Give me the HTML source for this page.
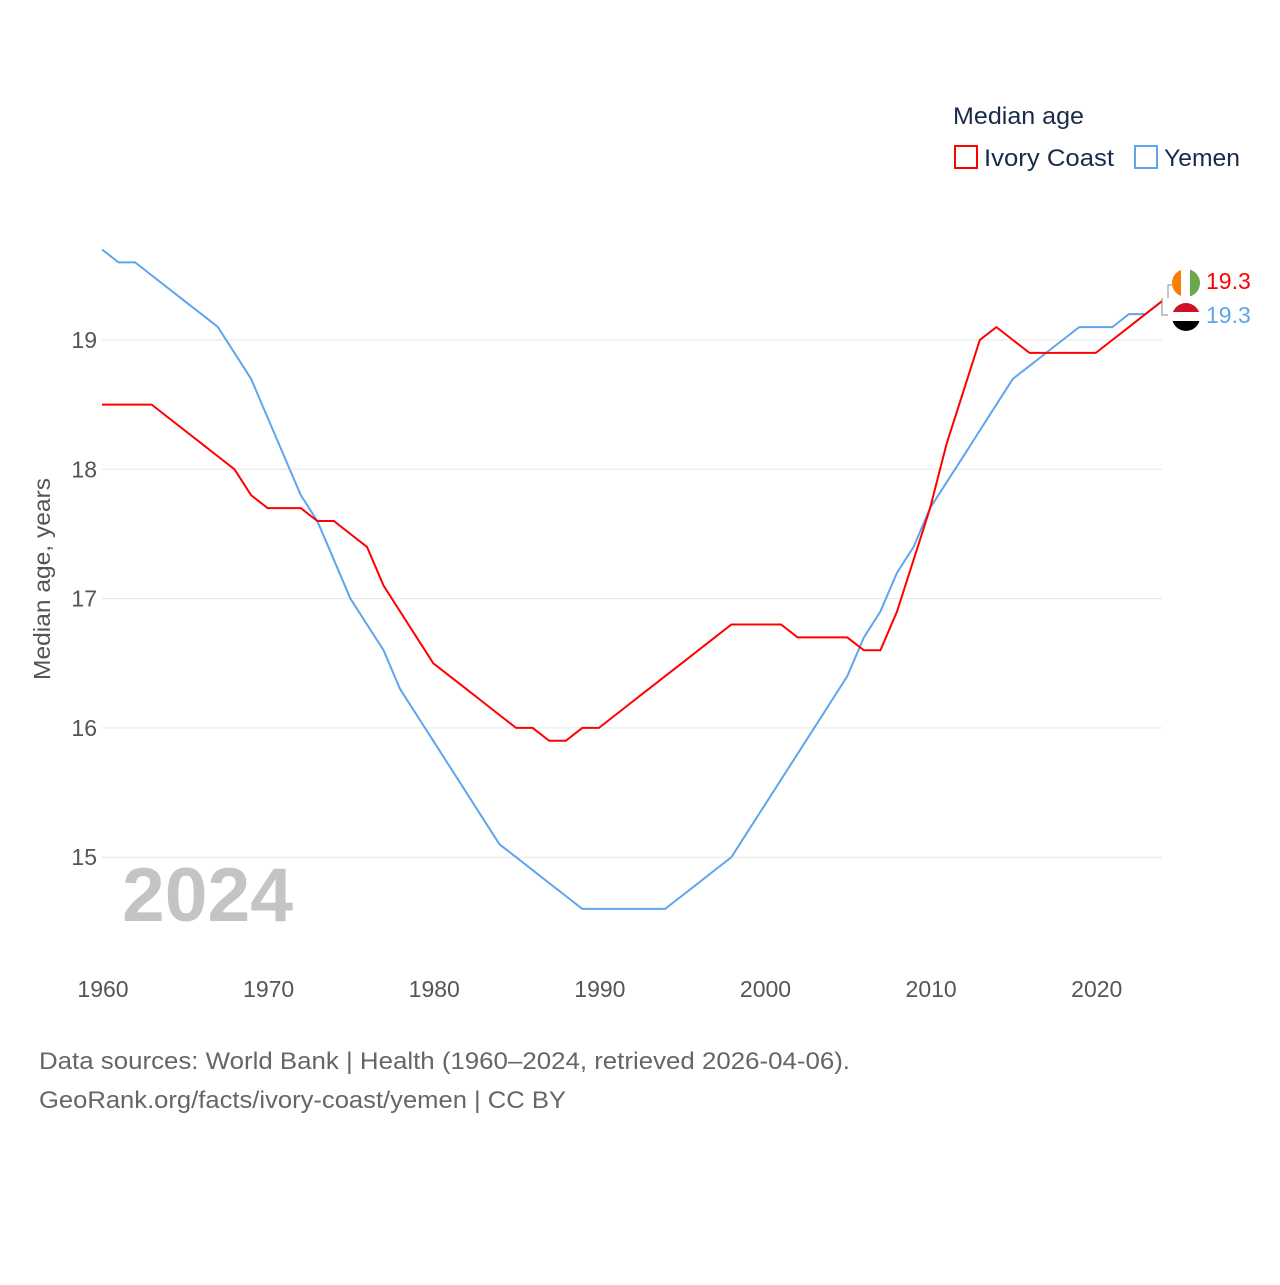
<!DOCTYPE html>
<html><head><meta charset="utf-8"><style>
body{margin:0;background:#fff;font-family:"Liberation Sans",sans-serif}
svg text{font-family:"Liberation Sans",sans-serif}
</style></head><body>
<svg width="1280" height="1280" viewBox="0 0 1280 1280">
<g id="grid"></g>
<g id="yt"></g>
<g id="xt"></g>
<text x="50" y="579" transform="rotate(-90 50 579)" text-anchor="middle" font-size="23" fill="#555" textLength="202" lengthAdjust="spacingAndGlyphs">Median age, years</text>
<text x="122" y="921" font-size="76" font-weight="bold" fill="#c4c4c4" textLength="171" lengthAdjust="spacingAndGlyphs">2024</text>
<g id="lines"></g>
<text x="953" y="124" font-size="24" fill="#1a2a4a" textLength="131" lengthAdjust="spacingAndGlyphs">Median age</text>
<g><rect x="955" y="146" width="22" height="22" fill="none" stroke="#f00" stroke-width="2"/><text x="984" y="166" font-size="24" fill="#1a2a4a" textLength="130" lengthAdjust="spacingAndGlyphs">Ivory Coast</text></g>
<g><rect x="1135" y="146" width="22" height="22" fill="none" stroke="#5fa5ee" stroke-width="2"/><text x="1164" y="166" font-size="24" fill="#1a2a4a" textLength="76" lengthAdjust="spacingAndGlyphs">Yemen</text></g>
<g>
<path d="M1168 298 V285 H1172 M1162 298 V315 H1168" stroke="#888" fill="none"/>
<g><clipPath id="c1"><circle cx="1186" cy="283" r="14"/></clipPath><g clip-path="url(#c1)"><rect x="1172" y="269" width="10" height="28" fill="#f77f00"/><rect x="1181" y="269" width="10" height="28" fill="#fff"/><rect x="1190" y="269" width="10" height="28" fill="#6aa84f"/></g></g>
<g><clipPath id="c2"><circle cx="1186" cy="317" r="14"/></clipPath><g clip-path="url(#c2)"><rect x="1172" y="303" width="28" height="10" fill="#ce1126"/><rect x="1172" y="312" width="28" height="10" fill="#fff"/><rect x="1172" y="321" width="28" height="10" fill="#000"/></g></g>
<text x="1206" y="289" font-size="23" fill="#f00">19.3</text>
<text x="1206" y="323" font-size="23" fill="#5fa5ee">19.3</text>
</g>
<text x="39" y="1069" font-size="24" fill="#666" textLength="811" lengthAdjust="spacingAndGlyphs">Data sources: World Bank | Health (1960–2024, retrieved 2026-04-06).</text>
<text x="39" y="1108" font-size="24" fill="#666" textLength="527" lengthAdjust="spacingAndGlyphs">GeoRank.org/facts/ivory-coast/yemen | CC BY</text>
</svg>
<script>
const years=[];for(let y=1960;y<=2024;y++)years.push(y);
const ivoryCoast=[18.5,18.5,18.5,18.5,18.4,18.3,18.2,18.1,18.0,17.8,17.7,17.7,17.7,17.6,17.6,17.5,17.4,17.1,16.9,16.7,16.5,16.4,16.3,16.2,16.1,16.0,16.0,15.9,15.9,16.0,16.0,16.1,16.2,16.3,16.4,16.5,16.6,16.7,16.8,16.8,16.8,16.8,16.7,16.7,16.7,16.7,16.6,16.6,16.9,17.3,17.7,18.2,18.6,19.0,19.1,19.0,18.9,18.9,18.9,18.9,18.9,19.0,19.1,19.2,19.3];
const yemen=[19.7,19.6,19.6,19.5,19.4,19.3,19.2,19.1,18.9,18.7,18.4,18.1,17.8,17.6,17.3,17.0,16.8,16.6,16.3,16.1,15.9,15.7,15.5,15.3,15.1,15.0,14.9,14.8,14.7,14.6,14.6,14.6,14.6,14.6,14.6,14.7,14.8,14.9,15.0,15.2,15.4,15.6,15.8,16.0,16.2,16.4,16.7,16.9,17.2,17.4,17.7,17.9,18.1,18.3,18.5,18.7,18.8,18.9,19.0,19.1,19.1,19.1,19.2,19.2,19.3];
const yTicks=[15,16,17,18,19];
const xTicks=[1960,1970,1980,1990,2000,2010,2020];
const NS="http://www.w3.org/2000/svg";
const X=y=>102+(y-1960)*(1060/64);
const Y=v=>340+(19-v)*129.3;
const grid=document.getElementById('grid'),yt=document.getElementById('yt'),xt=document.getElementById('xt'),lines=document.getElementById('lines');
yTicks.forEach(t=>{
const l=document.createElementNS(NS,'line');


l.setAttribute('x1',102);l.setAttribute('x2',1162);l.setAttribute('y1',Y(t));l.setAttribute('y2',Y(t));l.setAttribute('stroke','#e6e6e6');
grid.appendChild(l);
const tx=document.createElementNS(NS,'text');


tx.setAttribute('x',97);tx.setAttribute('y',Y(t)+8);tx.setAttribute('text-anchor','end');tx.setAttribute('font-size','23');tx.setAttribute('fill','#555');tx.textContent=t;
yt.appendChild(tx);
});
xTicks.forEach(t=>{
const tx=document.createElementNS(NS,'text');


tx.setAttribute('x',X(t)+1);tx.setAttribute('y',997);tx.setAttribute('text-anchor','middle');tx.setAttribute('font-size','23');tx.setAttribute('fill','#555');tx.textContent=t;
xt.appendChild(tx);
});
function draw(vals,color,name){
const p=document.createElementNS(NS,'path');


p.setAttribute('d',vals.map((v,i)=>(i?'L':'M')+X(years[i]).toFixed(1)+' '+Y(v).toFixed(1)).join(' '));
p.setAttribute('fill','none');p.setAttribute('stroke',color);p.setAttribute('stroke-width','2');
lines.appendChild(p);
}
draw(yemen,'#5fa5ee','line-yemen');
draw(ivoryCoast,'#ff0000','line-ivory-coast');
</script>
</body></html>
